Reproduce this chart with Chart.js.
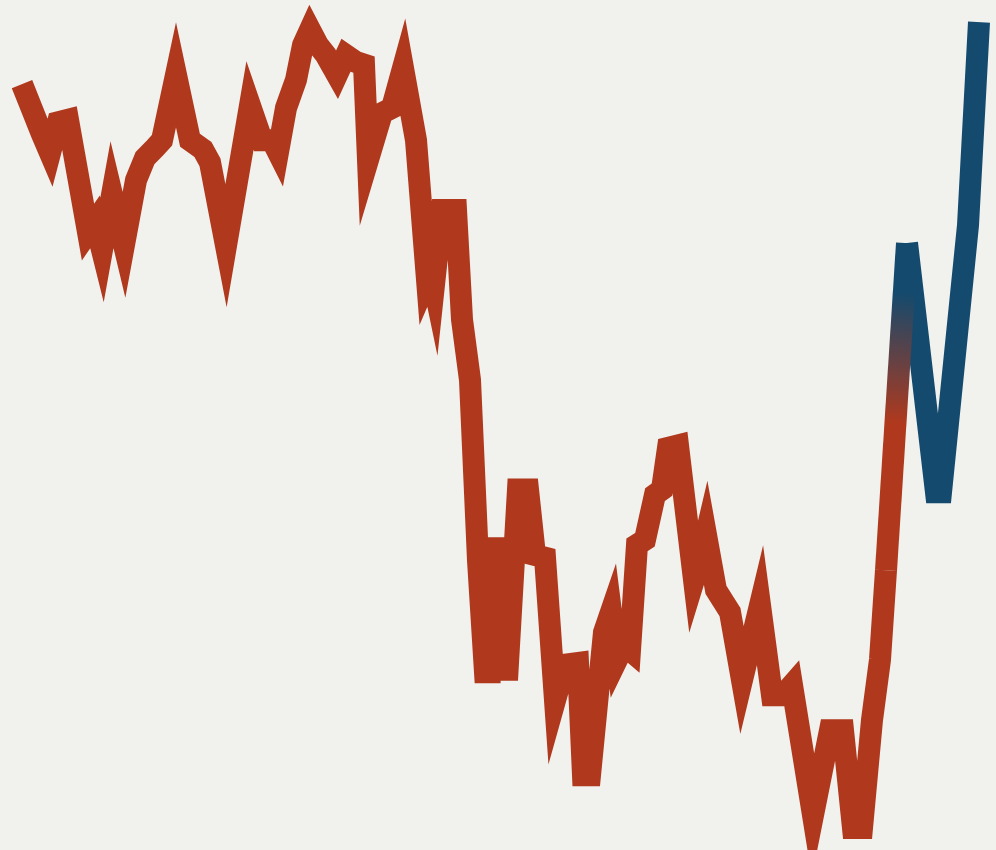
<!DOCTYPE html>
<html>
<head>
<meta charset="utf-8">
<script src="https://cdn.jsdelivr.net/npm/chart.js@4"></script>
<style>
  html, body { margin: 0; padding: 0; background: #f1f1ee; }
  #wrap { width: 996px; height: 850px; }
</style>
</head>
<body>
<div id="wrap"><canvas id="c" width="996" height="850"></canvas></div>
<script>
// Time (arbitrary months) and index values for the historical series
const redMonths = [2.2,4.2,5.0,5.8,6.8,8.8,9.5,10.2,11.2,12.4,13.6,14.5,15.5,16.2,17.6,19.0,20.3,21.0,22.6,25.0,
  26.2,27.2,27.8,28.6,29.6,30.3,31.0,31.8,32.6,33.7,34.6,35.6,36.4,36.8,38.2,39.2,40.3,41.6,42.7,43.1,
  43.4,44.2,45.6,46.2,47.0,47.8,48.5,49.0,49.5,50.2,50.7,51.8,52.8,53.5,54.5,55.5,56.5,57.8,58.3,59.0,
  60.4,61.1,61.7,62.4,63.0,63.7,64.5,65.5,66.2,66.8,67.8,69.4,70.0,70.6,71.6,73.0,74.2,76.0,77.2,78.3,
  79.2,81.3,83.0,84.3,85.3,86.2,87.2,88.0,88.6,90.7];
const redValues = [90.1,84.2,82.0,85.6,85.9,72.7,73.9,70.6,77.1,71.2,78.8,81.4,82.6,83.5,91.2,83.5,82.4,80.9,71.1,87.6,
  83.5,83.5,82.1,87.3,90.6,94.7,96.5,94.7,93.5,91.2,93.5,92.7,92.4,81.2,86.7,87.3,92.0,83.5,67.1,68.2,
  66.5,75.3,75.3,62.4,55.3,34.1,20.9,20.9,35.5,35.5,20.0,42.4,42.4,34.7,34.4,17.6,21.8,22.0,8.8,8.8,
  25.6,28.0,22.4,24.1,23.5,35.9,36.5,41.8,42.4,47.3,47.6,31.8,34.1,37.1,30.6,28.0,20.0,28.8,18.2,18.2,
  19.4,4.1,14.1,14.1,2.6,2.6,15.3,22.4,32.9,71.4];
// Recent series
const blueMonths = [90.7,93.6,94.1,96.8,97.9];
const blueValues = [71.4,42.1,42.1,73.5,97.4];

const RED = '#b0391d';
const BLUE = '#134a6e';
const toPts = (xs, ys) => xs.map((x, i) => ({ x: x, y: ys[i] }));
const cctx = document.getElementById('c').getContext('2d');

new Chart(cctx, {
  type: 'line',
  data: {
    datasets: [
      {
        data: toPts(redMonths, redValues),
        borderColor: RED,
        borderWidth: 22,
        borderJoinStyle: 'miter',
        borderCapStyle: 'butt',
        pointRadius: 0,
        tension: 0,
        fill: false,
        clip: false,
        segment: {
          borderColor: (s) => {
            if (s.p1DataIndex !== redValues.length - 1) return undefined;
            const g = cctx.createLinearGradient(s.p0.x, s.p0.y, s.p1.x, s.p1.y);
            g.addColorStop(0, RED);
            g.addColorStop(0.45, RED);
            g.addColorStop(0.85, BLUE);
            g.addColorStop(1, BLUE);
            return g;
          }
        }
      },
      {
        data: toPts(blueMonths, blueValues),
        borderColor: BLUE,
        borderWidth: 22,
        borderJoinStyle: 'miter',
        borderCapStyle: 'butt',
        pointRadius: 0,
        tension: 0,
        fill: false,
        clip: false
      }
    ]
  },
  options: {
    responsive: false,
    devicePixelRatio: 1,
    animation: false,
    layout: { padding: 0 },
    plugins: { legend: { display: false }, tooltip: { enabled: false } },
    scales: {
      x: { type: 'linear', min: 0, max: 99.6, display: false },
      y: { type: 'linear', min: 0, max: 100, display: false }
    }
  }
});
</script>
</body>
</html>
